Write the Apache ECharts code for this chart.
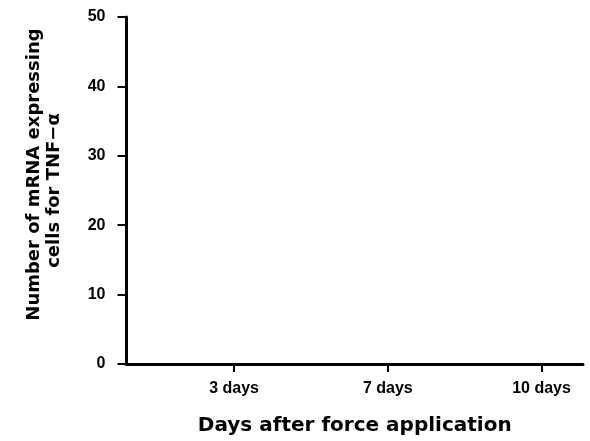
<!DOCTYPE html>
<html>
<head>
<meta charset="utf-8">
<script src="https://cdn.jsdelivr.net/npm/echarts@6/dist/echarts.min.js"></script>
<style>
  html, body { margin: 0; padding: 0; background: #fff; }
</style>
</head>
<body>
<div id="tnfChart" style="width: 590px; height: 441px;"></div>
<script>
// groups on the x axis and where they sit
let categories = ["3 days", "7 days", "10 days"];
let categoryPos = [1, 2, 3];
// y axis tick labels
let yTicks = [0, 10, 20, 30, 40, 50];
// no points are plotted in the original figure
let cellCounts = [];

let titleFont = "DejaVu Sans";
let tickFont = "Liberation Sans";

let chartsOptions = {
  animation: false,
  backgroundColor: "#fff",
  grid: {
    left: 126.5,
    right: 7,
    top: 17,
    bottom: 75.5
  },
  xAxis: {
    type: "value",
    min: 0.3,
    max: 3.27,
    name: "Days after force application",
    nameLocation: "middle",
    nameGap: 52,
    nameTextStyle: {
      fontFamily: titleFont,
      fontWeight: "bold",
      fontSize: 20,
      color: "#000"
    },
    axisLine: {
      show: true,
      lineStyle: { color: "#000", width: 3 }
    },
    axisTick: {
      show: true,
      length: 8,
      customValues: categoryPos,
      lineStyle: { color: "#000", width: 2 }
    },
    axisLabel: {
      customValues: categoryPos,
      margin: 17,
      fontFamily: tickFont,
      fontWeight: "bold",
      fontSize: 16,
      color: "#000",
      formatter: function(v) {
        let i = categoryPos.indexOf(v);
        return i >= 0 ? categories[i] : "";
      }
    },
    splitLine: { show: false }
  },
  yAxis: {
    type: "value",
    min: yTicks[0],
    max: yTicks[yTicks.length - 1],
    interval: 10,
    name: "{a|Number of mRNA expressing}\n{b|cells for TNF\u2212\u03b1}",
    nameLocation: "middle",
    nameGap: 62,
    nameRotate: 90,
    nameTextStyle: {
      fontFamily: titleFont,
      fontWeight: "bold",
      fontSize: 18,
      lineHeight: 20,
      color: "#000",
      rich: {
        a: {
          fontFamily: titleFont,
          fontWeight: "bold",
          fontSize: 18,
          lineHeight: 20,
          color: "#000",
          padding: [0, 0, 0, 32]
        },
        b: {
          fontFamily: titleFont,
          fontWeight: "bold",
          fontSize: 18,
          lineHeight: 20,
          color: "#000"
        }
      }
    },
    axisLine: {
      show: true,
      lineStyle: { color: "#000", width: 3 }
    },
    axisTick: {
      show: true,
      length: 9,
      lineStyle: { color: "#000", width: 2 }
    },
    axisLabel: {
      margin: 21,
      fontFamily: tickFont,
      fontWeight: "bold",
      fontSize: 16,
      color: "#000"
    },
    splitLine: { show: false }
  },
  series: [
    {
      type: "scatter",
      data: cellCounts
    }
  ]
};

let dataCharts = echarts.init(document.getElementById("tnfChart"));
dataCharts.setOption(chartsOptions);
</script>
</body>
</html>
